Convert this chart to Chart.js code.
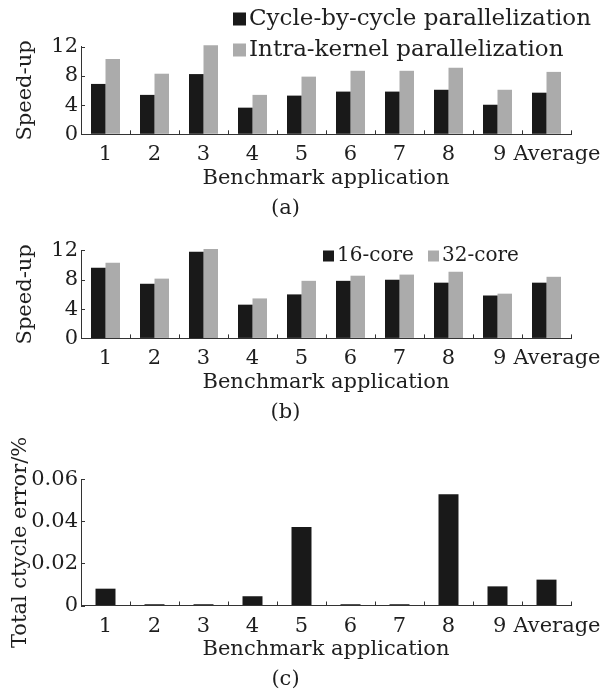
<!DOCTYPE html>
<html>
<head>
<meta charset="utf-8">
<script src="https://cdn.jsdelivr.net/npm/chart.js@4/dist/chart.umd.min.js"></script>
<style>
html, body { margin: 0; padding: 0; background: #ffffff; }
#wrap { position: relative; width: 604px; height: 690px; overflow: hidden; }
#wrap canvas { position: absolute; left: 0; }
</style>
</head>
<body>
<div id="wrap">
  <canvas id="chartA" width="604" height="225" style="top:0px"></canvas>
  <canvas id="chartB" width="604" height="205" style="top:225px"></canvas>
  <canvas id="chartC" width="604" height="260" style="top:430px"></canvas>
</div>
<script>
// ---------------- data ----------------
const categories = ['1', '2', '3', '4', '5', '6', '7', '8', '9', 'Average'];

// (a) speed-up by parallelization method
const cycleByCycle = [6.9, 5.4, 8.25, 3.65, 5.3, 5.85, 5.85, 6.1, 4.05, 5.7];
const intraKernel  = [10.3, 8.3, 12.2, 5.4, 7.9, 8.7, 8.7, 9.1, 6.1, 8.55];

// (b) speed-up by core count
const core16 = [9.65, 7.45, 11.8, 4.6, 6.0, 7.85, 8.0, 7.6, 5.85, 7.6];
const core32 = [10.3, 8.15, 12.2, 5.45, 7.85, 8.55, 8.7, 9.1, 6.1, 8.4];

// (c) total cycle error (%)
const cycleError = [0.008, 0.0006, 0.0006, 0.0044, 0.0373, 0.0006, 0.0006, 0.0529, 0.0091, 0.0123];

// axis ticks
const speedTicks = [0, 4, 8, 12];
const speedTickLabels = ['0', '4', '8', '12'];
const errorTicks = [0, 0.02, 0.04, 0.06];
const errorTickLabels = ['0', '0.02', '0.04', '0.06'];

// ---------------- styling ----------------
const FONT = 'DejaVu Serif';
const TEXT = '#1e1e1e';
const AXIS = '#333333';
const BLACK = '#191919';
const GRAY = '#ababab';

function xLabel(value) {
  const i = Math.round(value) - 1;
  const c = categories[i];
  if (c === undefined) return '';
  if (i === categories.length - 1) return '\u2002\u2002' + c;
  if (i === categories.length - 2) return '\u2009' + c;
  return c;
}

const boxLegend = {
  id: 'boxLegend',
  afterDraw(chart, args, opts) {
    if (!opts || !opts.items) return;
    const ctx = chart.ctx;
    ctx.save();
    ctx.font = opts.size + 'px "' + FONT + '"';
    ctx.textBaseline = 'middle';
    ctx.textAlign = 'left';
    chart.data.datasets.forEach((ds, i) => {
      const p = opts.items[i];
      if (!p) return;
      ctx.fillStyle = ds.backgroundColor;
      ctx.fillRect(p.x, p.y - opts.box / 2, opts.box, opts.box);
      ctx.fillStyle = TEXT;
      ctx.fillText(ds.label, p.x + opts.box + opts.gap, p.y + (opts.dy || 0));
    });
    ctx.restore();
  }
};

const innerTicks = {
  id: 'innerTicks',
  afterDatasetsDraw(chart, args, opts) {
    const ctx = chart.ctx;
    const x = chart.scales.x, y = chart.scales.y;
    ctx.save();
    ctx.strokeStyle = opts.color;
    ctx.lineWidth = 1;
    ctx.beginPath();
    for (let i = 1; i <= categories.length; i++) {
      const px = Math.round(x.getPixelForValue(i + 0.5)) + 0.5;
      ctx.moveTo(px, y.bottom);
      ctx.lineTo(px, y.bottom - opts.len);
    }
    y.ticks.forEach(t => {
      const py = Math.round(y.getPixelForValue(t.value)) + 0.5;
      ctx.moveTo(x.left, py);
      ctx.lineTo(x.left + opts.len, py);
    });
    ctx.stroke();
    ctx.restore();
  }
};

function buildChart(id, cfg) {
  const font = { family: FONT, size: 21, weight: 'normal', lineHeight: 1.2 };
  return new Chart(document.getElementById(id), {
    type: 'bar',
    data: {
      datasets: cfg.series.map(s => ({
        label: s.label,
        data: s.values.map((v, i) => ({ x: i + 1, y: v })),
        backgroundColor: s.color,
        borderWidth: 0,
        categoryPercentage: cfg.catPct,
        barPercentage: 1,
        clip: false
      }))
    },
    options: {
      responsive: false,
      animation: false,
      devicePixelRatio: 1,
      layout: { padding: { top: cfg.padTop, bottom: cfg.padBottom, left: 0, right: 33 } },
      scales: {
        x: {
          type: 'linear',
          min: 0.5,
          max: categories.length + 0.5,
          offset: false,
          grid: { display: true, drawOnChartArea: false, drawTicks: false, offset: false },
          border: { display: true, color: AXIS, width: 1 },
          afterBuildTicks: s => { s.ticks = categories.map((c, i) => ({ value: i + 1 })); },
          ticks: { autoSkip: false, maxRotation: 0, padding: 8, color: TEXT, font: font,
                   callback: v => xLabel(v) },
          title: { display: true, text: 'Benchmark application', color: TEXT, font: font, padding: 0 },
          afterFit: s => { s.height = 57; s.paddingLeft = 0; s.paddingRight = 0; }
        },
        y: {
          type: 'linear',
          min: cfg.yTicks[0],
          max: cfg.yTicks[cfg.yTicks.length - 1],
          grid: { display: true, drawOnChartArea: false, drawTicks: false },
          border: { display: true, color: AXIS, width: 1 },
          afterBuildTicks: s => { s.ticks = cfg.yTicks.map(v => ({ value: v })); },
          ticks: { padding: 3, color: TEXT, font: font,
                   callback: (v, i) => cfg.yLabels[i] },
          title: { display: true, text: cfg.yTitle, color: TEXT, font: font,
                   padding: { top: cfg.yTitlePad, bottom: 0 } },
          afterFit: s => { s.width = 81; s.paddingTop = 0; s.paddingBottom = 0; }
        }
      },
      plugins: {
        legend: { display: false },
        tooltip: { enabled: false },
        title: {
          display: true, position: 'bottom', text: cfg.caption, color: TEXT,
          font: { family: FONT, size: 21, weight: 'normal', lineHeight: 1 },
          padding: { top: 6.5, bottom: 0 }
        },
        boxLegend: cfg.legend || {},
        innerTicks: { len: 4, color: AXIS }
      }
    },
    plugins: [boxLegend, innerTicks]
  });
}

buildChart('chartA', {
  series: [
    { label: 'Cycle-by-cycle parallelization', values: cycleByCycle, color: BLACK },
    { label: 'Intra-kernel parallelization', values: intraKernel, color: GRAY }
  ],
  catPct: 0.592,
  padTop: 46.7, padBottom: 6.2,
  yTicks: speedTicks, yLabels: speedTickLabels,
  yTitle: 'Speed-up', yTitlePad: 13,
  caption: '(a)',
  legend: { size: 23, box: 13, gap: 3, items: [{ x: 233, y: 19 }, { x: 233, y: 50 }] }
});

buildChart('chartB', {
  series: [
    { label: '16-core', values: core16, color: BLACK },
    { label: '32-core', values: core32, color: GRAY }
  ],
  catPct: 0.592,
  padTop: 25.4, padBottom: 7.1,
  yTicks: speedTicks, yLabels: speedTickLabels,
  yTitle: 'Speed-up', yTitlePad: 13,
  caption: '(b)',
  legend: { size: 20, box: 11, gap: 3, items: [{ x: 323, y: 31 }, { x: 428, y: 31 }] }
});

buildChart('chartC', {
  series: [
    { label: 'Total cycle error', values: cycleError, color: BLACK }
  ],
  catPct: 0.408,
  padTop: 49.3, padBottom: 0,
  yTicks: errorTicks, yLabels: errorTickLabels,
  yTitle: 'Total ctycle error/%', yTitlePad: 8.4,
  caption: '(c)'
});
</script>
</body>
</html>
